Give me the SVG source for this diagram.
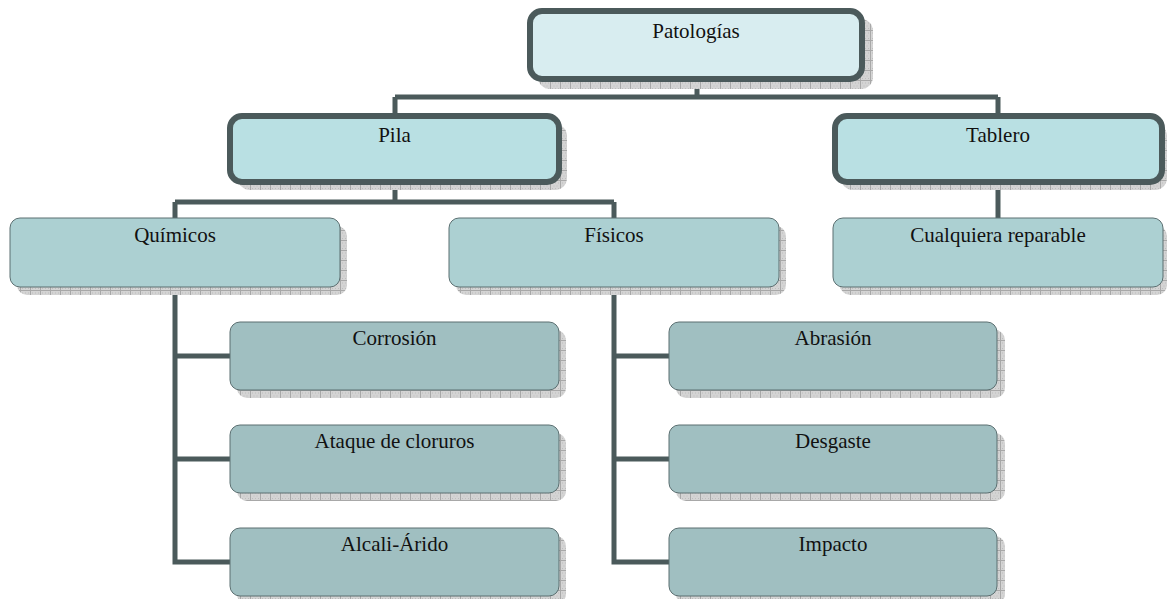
<svg xmlns="http://www.w3.org/2000/svg" width="1167" height="599" viewBox="0 0 1167 599">
  <defs>
    <!-- hatched grey shadow fill -->
    <pattern id="hatch" width="10" height="10" patternUnits="userSpaceOnUse">
      <rect width="10" height="10" fill="#d4d4d4"/>
      <path d="M0 0.5H10M0.5 0V10" stroke="#a8a8a8" stroke-width="1"/>
      <path d="M2 3h1M5 3h1M8 3h1M3.5 6h1M6.5 6h1M2 8.5h1M5 8.5h1M8 8.5h1" stroke="#bdbdbd" stroke-width="1"/>
    </pattern>
  </defs>
  <style>
    .shadow { fill: url(#hatch); }
    .thick { stroke: #4b5a5b; stroke-width: 6; }
    .thin { stroke: #5b6f71; stroke-width: 1; }
    .top { fill: #d8edf0; }
    .mid { fill: #b9e0e3; }
    .sub { fill: #acd0d2; }
    .leaf { fill: #a0bfc1; }
    .wire { fill: none; stroke: #4b5a5b; stroke-width: 5; stroke-linejoin: miter; stroke-linecap: butt; }
    text { font-family: "Liberation Serif", "Times New Roman", serif; font-size: 21px; fill: #111; text-anchor: middle; }
  </style>

  <rect width="1167" height="599" fill="#ffffff"/>

  <!-- connectors -->
  <g id="connectors">
    <path class="wire" d="M697 79V97M395 97H998M395 97V116M998 97V116"/>
    <path class="wire" d="M395 182V202M175 202H614M175 202V218M614 202V218"/>
    <path class="wire" d="M998 182V218"/>
    <path class="wire" d="M175 287V562H230M175 356H230M175 459H230"/>
    <path class="wire" d="M614 287V562H669M614 356H669M614 459H669"/>
  </g>

  <g id="patologias">
    <rect class="shadow" x="538" y="19" width="335" height="70" rx="12"/>
    <rect class="thick top" x="530" y="11" width="332" height="68" rx="12"/>
    <text x="696" y="38">Patologías</text>
  </g>

  <g id="pila">
    <rect class="shadow" x="238" y="124" width="329" height="66" rx="12"/>
    <rect class="thick mid" x="230" y="116" width="329" height="66" rx="12"/>
    <text x="394.5" y="142">Pila</text>
  </g>

  <g id="tablero">
    <rect class="shadow" x="841" y="124" width="326" height="66" rx="12"/>
    <rect class="thick mid" x="835" y="116" width="327" height="66" rx="12"/>
    <text x="998" y="142">Tablero</text>
  </g>

  <g id="quimicos">
    <rect class="shadow" x="17" y="226" width="330" height="69" rx="10"/>
    <rect class="thin sub" x="10" y="218" width="330" height="69" rx="10"/>
    <text x="175" y="242">Químicos</text>
  </g>

  <g id="fisicos">
    <rect class="shadow" x="456" y="226" width="330" height="69" rx="10"/>
    <rect class="thin sub" x="449" y="218" width="330" height="69" rx="10"/>
    <text x="614" y="242">Físicos</text>
  </g>

  <g id="cualquiera">
    <rect class="shadow" x="840" y="226" width="327" height="69" rx="10"/>
    <rect class="thin sub" x="833" y="218" width="330" height="69" rx="10"/>
    <text x="998" y="242">Cualquiera reparable</text>
  </g>

  <g id="corrosion">
    <rect class="shadow" x="237" y="330" width="329" height="68" rx="10"/>
    <rect class="thin leaf" x="230" y="322" width="329" height="68" rx="10"/>
    <text x="394.5" y="345">Corrosión</text>
  </g>

  <g id="cloruros">
    <rect class="shadow" x="237" y="433" width="329" height="68" rx="10"/>
    <rect class="thin leaf" x="230" y="425" width="329" height="68" rx="10"/>
    <text x="394.5" y="448">Ataque de cloruros</text>
  </g>

  <g id="alcali">
    <rect class="shadow" x="237" y="536" width="329" height="68" rx="10"/>
    <rect class="thin leaf" x="230" y="528" width="329" height="68" rx="10"/>
    <text x="394.5" y="551">Alcali-Árido</text>
  </g>

  <g id="abrasion">
    <rect class="shadow" x="676" y="330" width="329" height="68" rx="10"/>
    <rect class="thin leaf" x="669" y="322" width="328" height="68" rx="10"/>
    <text x="833" y="345">Abrasión</text>
  </g>

  <g id="desgaste">
    <rect class="shadow" x="676" y="433" width="329" height="68" rx="10"/>
    <rect class="thin leaf" x="669" y="425" width="328" height="68" rx="10"/>
    <text x="833" y="448">Desgaste</text>
  </g>

  <g id="impacto">
    <rect class="shadow" x="676" y="536" width="329" height="68" rx="10"/>
    <rect class="thin leaf" x="669" y="528" width="328" height="68" rx="10"/>
    <text x="833" y="551">Impacto</text>
  </g>
</svg>
